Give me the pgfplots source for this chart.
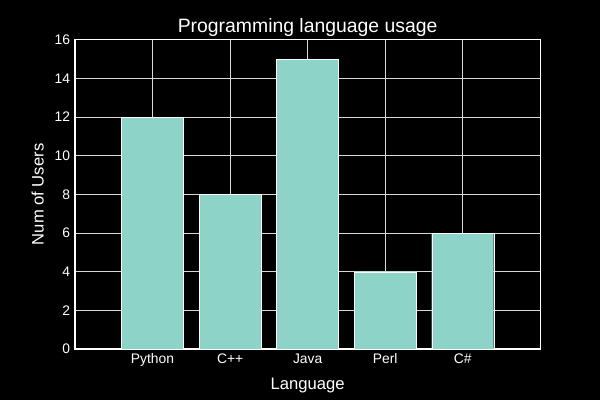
\documentclass[border=0pt]{standalone}
\usepackage{pgfplots}
\pgfplotsset{compat=1.18}
\usepackage{fontspec}
\setmainfont{Liberation Sans}
\usetikzlibrary{backgrounds}
\definecolor{barcol}{HTML}{8DD3C7}
\begin{document}
\begin{tikzpicture}[x=0.01in,y=0.01in]
\begin{axis}[
    name=ax,
    at={(0,0)}, anchor=south west,
    scale only axis,
    width=4.65in, height=3.09in,
    xmin=-1, xmax=5,
    ymin=0, ymax=16,
    xtick=data,
    xticklabels={Python,C++,Java,Perl,C\#},
    ytick={0,2,4,6,8,10,12,14,16},
    major tick length=0pt,
    axis line style={white, line width=0.8pt},
    grid=major, grid style={white!85!black, line width=0.6pt},
    tick label style={white, font=\fontsize{10}{12}\selectfont},
    /pgf/number format/assume math mode=true,
    xlabel={Language}, ylabel={Num of Users},
    label style={white, font=\fontsize{12}{14}\selectfont},
    title={Programming language usage},
    title style={white, font=\fontsize{14}{17}\selectfont, yshift=-7pt},
    ylabel style={yshift=1pt},
    xlabel style={yshift=-1pt},
]
\addplot[ybar, bar width=0.8, fill=barcol, draw=white, line width=0.3pt] coordinates {
    (0,12) (1,8) (2,15) (3,4) (4,6)
};
\end{axis}
\begin{scope}[on background layer]
\fill[black] (-75,-51) rectangle (525,349);
\end{scope}
\end{tikzpicture}
\end{document}
